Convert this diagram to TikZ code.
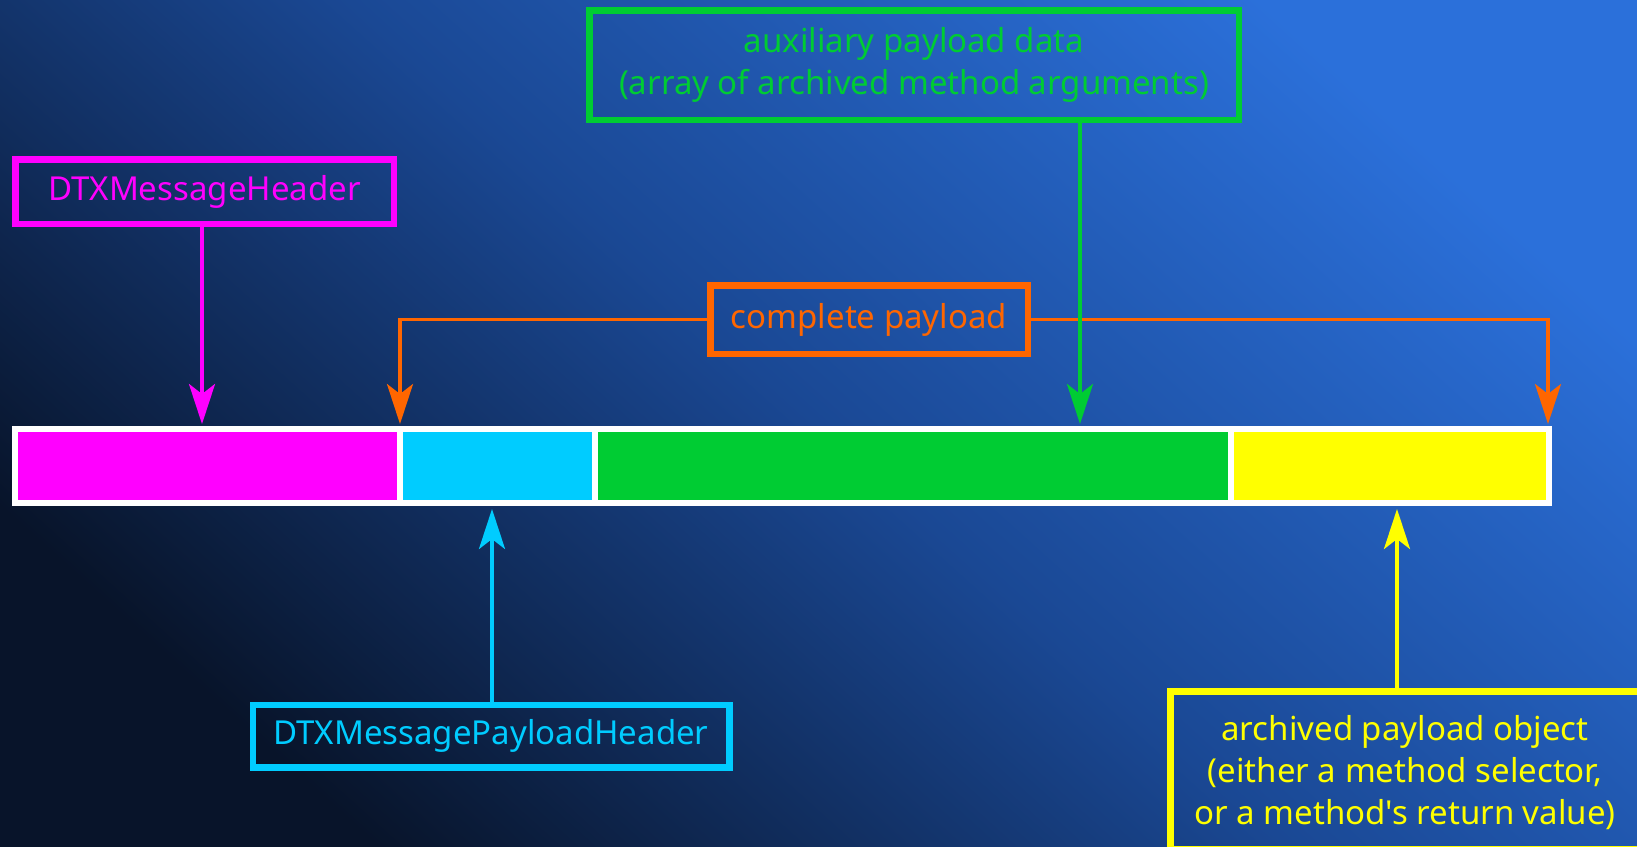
\documentclass[tikz,border=0pt]{standalone}
\usepackage{fontspec}
\setmainfont{Noto Sans}[Ligatures=TeXOff]
\usetikzlibrary{arrows.meta}
\definecolor{cMag}{HTML}{FF00FF}
\definecolor{cCyan}{HTML}{00CCFF}
\definecolor{cGreen}{HTML}{00CC33}
\definecolor{cYel}{HTML}{FFFF00}
\definecolor{cOra}{HTML}{FF6600}
\definecolor{bgA}{HTML}{08142A}
\definecolor{bgB}{HTML}{1A4894}
\definecolor{bgC}{HTML}{2B70DA}
\tikzset{
  lbox/.style={draw, line width=6.5pt, inner sep=0pt, align=center, font=\fontsize{33}{42}\selectfont},
  seg/.style={inner sep=0pt, minimum height=68pt},
  arr/.style={line width=3.8pt, -{Stealth[length=40pt,width=26pt,inset=10pt]}},
}
\begin{document}
\begin{tikzpicture}[x=1pt,y=-1pt]
\useasboundingbox (0,0) rectangle (1637,846);
\clip (0,0) rectangle (1637,846);
\shade[bottom color=bgA, top color=bgC, middle color=bgB, shading angle=-42] (0,0) rectangle (1637,846);

% bar
\node[fill=white, inner sep=0pt, minimum width=1540pt, minimum height=80pt] (bar) at (782,466) {};
\node[seg, fill=cMag, minimum width=379pt] (smag) at (207.5,466) {};
\node[seg, fill=cCyan, minimum width=189pt] (scyan) at (497.5,466) {};
\node[seg, fill=cGreen, minimum width=630pt] (sgreen) at (913,466) {};
\node[seg, fill=cYel, minimum width=312pt] (syel) at (1390,466) {};

% boxes
\node[lbox, cMag, minimum width=378.5pt, minimum height=64.5pt] (mbox) at (204.5,191.5) {DTXMessageHeader};
\node[lbox, cOra, minimum width=317.5pt, minimum height=68.5pt] (obox) at (869,319.5) {complete payload};
\node[lbox, cGreen, minimum width=649.5pt, minimum height=109.5pt] (gbox) at (914,65) {auxiliary payload data\\(array of archived method arguments)};
\node[lbox, cCyan, minimum width=476.5pt, minimum height=62.5pt] (cbox) at (491,736) {DTXMessagePayloadHeader};
\node[lbox, cYel, minimum width=469.5pt, minimum height=157.5pt, text depth=0pt] (ybox) at (1405,770) {archived payload object\\(either a method selector,\\or a method's return value)};

% tips
\coordinate (mtip) at (202,424);
\coordinate (otipl) at (400,424);
\coordinate (otipr) at (1548,424);
\coordinate (gtip) at (1080,424);
\coordinate (ctip) at (492,509);
\coordinate (ytip) at (1397,509);

% connectors
\draw[arr, cOra, line width=3.5pt] (obox.west) -| (otipl);
\draw[arr, cOra, line width=3.5pt] (obox.east) -| (otipr);
\draw[arr, cMag] (mbox.south -| mtip) -- (mtip);
\draw[arr, cGreen] (gbox.south -| gtip) -- (gtip);
\draw[arr, cCyan] (cbox.north -| ctip) -- (ctip);
\draw[arr, cYel] (ybox.north -| ytip) -- (ytip);
\end{tikzpicture}
\end{document}
